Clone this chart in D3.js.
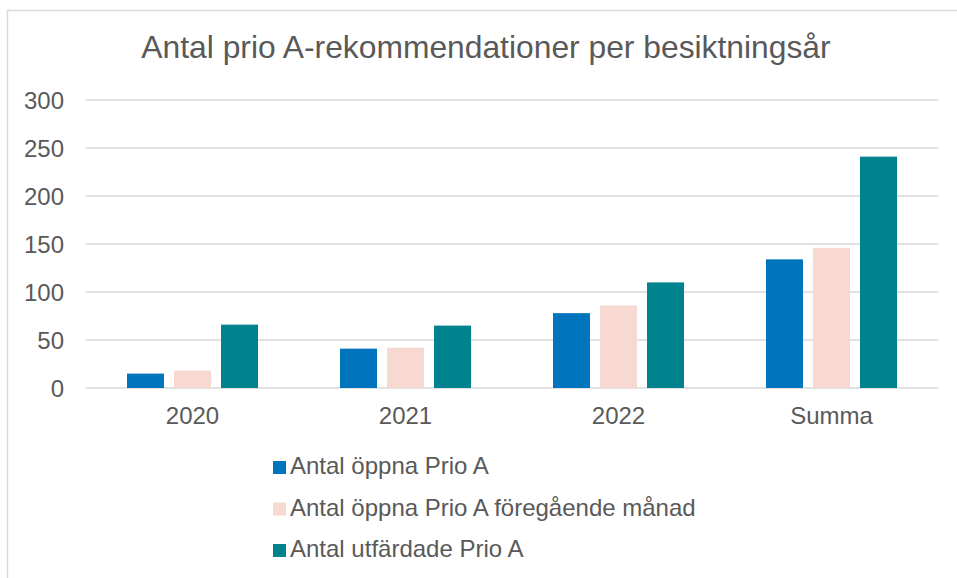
<!DOCTYPE html>
<html>
<head>
<meta charset="utf-8">
<script src="https://cdn.jsdelivr.net/npm/d3@7"></script>
<style>
  body { margin: 0; background: #fff; }
  svg { display: block; font-family: "Liberation Sans", Arial, sans-serif; }
</style>
</head>
<body>
<div id="chart"></div>
<script>
// Chart data
const categories = ["2020", "2021", "2022", "Summa"];
const seriesNames = ["Antal öppna Prio A", "Antal öppna Prio A föregående månad", "Antal utfärdade Prio A"];
const openPrioA = [15, 41, 78, 134];
const openPrevMonth = [18, 42, 86, 146];
const issuedPrioA = [66, 65, 110, 241];
const yTicks = [0, 50, 100, 150, 200, 250, 300];
const colors = ["#0075BE", "#F7D9D2", "#00838F"];

const seriesValues = [openPrioA, openPrevMonth, issuedPrioA];

const width = 957, height = 578;
const plot = {left: 86, right: 938, top: 100, bottom: 388};
const textColor = "#595959";

const svg = d3.select("#chart").append("svg")
    .attr("width", width)
    .attr("height", height);

// chart frame
svg.append("rect")
    .attr("x", 7.5).attr("y", 10.5)
    .attr("width", 970).attr("height", 600)
    .attr("fill", "none")
    .attr("stroke", "#d9d9d9")
    .attr("stroke-width", 1.5);

svg.append("text")
    .attr("x", 486)
    .attr("y", 58)
    .attr("text-anchor", "middle")
    .attr("fill", textColor)
    .attr("font-size", "31.8px")
    .text("Antal prio A-rekommendationer per besiktningsår");

const y = d3.scaleLinear()
    .domain([0, 300])
    .range([plot.bottom, plot.top]);

const x0 = d3.scaleBand()
    .domain(categories)
    .range([plot.left, plot.right])
    .padding(0);

const x1 = d3.scaleBand()
    .domain(d3.range(seriesNames.length))
    .range([0, x0.bandwidth()])
    .paddingInner(0.213)
    .paddingOuter(0.872);

// gridlines
svg.append("g")
    .selectAll("line")
    .data(yTicks)
    .enter().append("line")
    .attr("x1", plot.left)
    .attr("x2", plot.right)
    .attr("y1", d => y(d))
    .attr("y2", d => y(d))
    .attr("stroke", "#d9d9d9")
    .attr("stroke-width", 1.5);

// y labels
svg.append("g")
    .selectAll("text")
    .data(yTicks)
    .enter().append("text")
    .attr("x", 64)
    .attr("y", d => y(d))
    .attr("dy", "0.36em")
    .attr("text-anchor", "end")
    .attr("fill", textColor)
    .attr("font-size", "24px")
    .text(d => d);

// bars
const groups = svg.append("g")
    .selectAll("g")
    .data(categories)
    .enter().append("g")
    .attr("transform", d => `translate(${x0(d)},0)`);

groups.selectAll("rect")
    .data((d, i) => seriesValues.map((vals, s) => ({s: s, v: vals[i]})))
    .enter().append("rect")
    .attr("x", d => x1(d.s))
    .attr("width", x1.bandwidth())
    .attr("y", d => y(d.v))
    .attr("height", d => y(0) - y(d.v))
    .attr("fill", d => colors[d.s]);

// x labels
svg.append("g")
    .selectAll("text")
    .data(categories)
    .enter().append("text")
    .attr("x", d => x0(d) + x0.bandwidth() / 2)
    .attr("y", 424)
    .attr("text-anchor", "middle")
    .attr("fill", textColor)
    .attr("font-size", "24px")
    .text(d => d);

// legend
const legend = svg.append("g")
    .selectAll("g")
    .data(seriesNames)
    .enter().append("g")
    .attr("transform", (d, i) => `translate(273,${474 + i * 41.5})`);

legend.append("rect")
    .attr("x", 0)
    .attr("y", -13)
    .attr("width", 13)
    .attr("height", 13)
    .attr("fill", (d, i) => colors[i]);

legend.append("text")
    .attr("x", 17)
    .attr("y", 0)
    .attr("fill", textColor)
    .attr("font-size", "24px")
    .text(d => d);
</script>
</body>
</html>
